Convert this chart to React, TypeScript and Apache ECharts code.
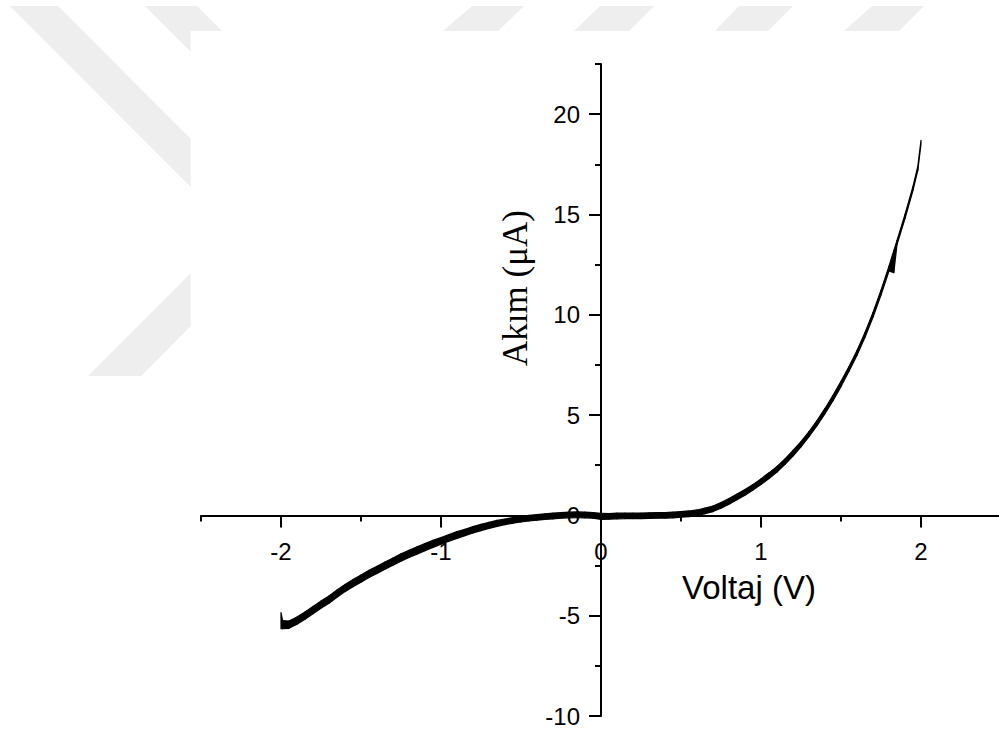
import React, { useEffect, useRef } from "react";
import * as echarts from "echarts";

// Voltage (V) sample positions
const voltage = [
  -2.0, -1.99, -1.95, -1.9, -1.85, -1.8, -1.75, -1.7, -1.65, -1.6, -1.55, -1.5,
  -1.45, -1.4, -1.35, -1.3, -1.25, -1.2, -1.15, -1.1, -1.05, -1.0, -0.95, -0.9,
  -0.85, -0.8, -0.75, -0.7, -0.65, -0.6, -0.55, -0.5, -0.45, -0.4, -0.35, -0.3,
  -0.25, -0.2, -0.15, -0.1, -0.05, 0.0, 0.05, 0.1, 0.15, 0.2, 0.25, 0.3, 0.35,
  0.4, 0.45, 0.5, 0.55, 0.6, 0.65, 0.7, 0.75, 0.8, 0.85, 0.9, 0.95, 1.0, 1.05,
  1.1, 1.15, 1.2, 1.25, 1.3, 1.35, 1.4, 1.45, 1.5, 1.55, 1.6, 1.65, 1.7, 1.75,
  1.8, 1.83, 1.85, 1.9, 1.95, 1.98, 2.0,
];

// Lower edge of the noisy current trace (µA)
const currentLow = [
  -5.65, -5.65, -5.63, -5.43, -5.18, -4.9, -4.63, -4.38, -4.08, -3.8, -3.56, -3.33,
  -3.1, -2.9, -2.68, -2.48, -2.28, -2.1, -1.93, -1.76, -1.6, -1.44, -1.29, -1.15,
  -1.01, -0.88, -0.76, -0.65, -0.55, -0.46, -0.39, -0.33, -0.28, -0.24, -0.2, -0.17,
  -0.14, -0.12, -0.11, -0.12, -0.14, -0.2, -0.19, -0.17, -0.16, -0.16, -0.16, -0.15, -0.14,
  -0.14, -0.12, -0.09, -0.06, -0.01, 0.08, 0.19, 0.36, 0.56, 0.78, 1.01, 1.26, 1.54, 1.84,
  2.16, 2.54, 2.96, 3.42, 3.92, 4.47, 5.07, 5.72, 6.42, 7.18, 7.98, 8.88, 9.88, 10.98,
  12.18, 12.1, 13.5, 14.8, 16.2, 17.2, 18.5,
];

// Upper edge of the noisy current trace (µA)
const currentHigh = [
  -4.85, -5.25, -5.27, -5.07, -4.82, -4.54, -4.27, -4.02, -3.72, -3.44, -3.2, -2.97,
  -2.74, -2.54, -2.32, -2.12, -1.92, -1.74, -1.57, -1.4, -1.24, -1.1, -0.95, -0.81,
  -0.69, -0.56, -0.44, -0.35, -0.25, -0.18, -0.11, -0.05, 0.0, 0.04, 0.08, 0.11,
  0.14, 0.16, 0.17, 0.16, 0.14, 0.1, 0.09, 0.11, 0.12, 0.12, 0.12, 0.13, 0.14,
  0.14, 0.16, 0.19, 0.22, 0.27, 0.36, 0.47, 0.64, 0.84, 1.06, 1.29, 1.54, 1.82, 2.12,
  2.44, 2.82, 3.24, 3.68, 4.18, 4.73, 5.33, 5.98, 6.68, 7.42, 8.22, 9.12, 10.12, 11.22,
  12.42, 13.2, 13.7, 15.0, 16.4, 17.4, 18.7,
];

const xMin = -2.5;
const xMax = 2.5;
const yMin = -10;
const yMax = 22.5;
const xMajorTicks = [-2, -1, 0, 1, 2];
const xMinorTicks = [-2.5, -1.5, -0.5, 0.5, 1.5, 2.5];
const yMajorTicks = [-10, -5, 0, 5, 10, 15, 20];
const yMinorTicks = [-7.5, -2.5, 2.5, 7.5, 12.5, 17.5, 22.5];

const xTitle = "Voltaj (V)";
const yTitle = "Akım (μA)";

// Faint watermark shapes around the figure
const watermarkShapes = [
  [[10, 6], [58, 6], [190.7, 138.7], [190.7, 186.7]],
  [[145, 6], [197, 6], [222, 31], [190.7, 31], [190.7, 51.7]],
  [[88, 376], [141, 376], [190.7, 326.3], [190.7, 273.3]],
  [[472, 6], [524, 6], [498, 31], [443, 31]],
  [[600, 6], [654, 6], [629, 31], [574, 31]],
  [[739, 6], [793, 6], [768, 31], [715, 31]],
  [[872, 6], [924, 6], [899, 31], [844, 31]],
];

const SANS = '"Liberation Sans", Arial, sans-serif';
const SERIF = '"Liberation Serif", "Times New Roman", serif';

const GRID = { left: 201, top: 64, width: 800, height: 652 };

export default function App() {
  const ref = useRef<HTMLDivElement>(null);

  useEffect(() => {
    if (!ref.current) return;
    const chart = echarts.init(ref.current, undefined, { renderer: "svg" });

    const black = "#000000";
    const tickStyle = { color: black, width: 2 };

    // Place the axis lines through the origin (x = 0, y = 0)
    const xAxisOffset = -GRID.height * (0 - yMin) / (yMax - yMin);
    const yAxisOffset = -GRID.width * (0 - xMin) / (xMax - xMin);

    const segments = voltage.slice(0, -1).map((v, i) => [
      v, currentLow[i], currentHigh[i],
      voltage[i + 1], currentLow[i + 1], currentHigh[i + 1],
    ]);

    const option: any = {
      animation: false,
      backgroundColor: "#ffffff",
      textStyle: { fontFamily: SANS },
      grid: { ...GRID, containLabel: false, outerBoundsMode: "none" },
      xAxis: [
        {
          type: "value",
          min: xMin,
          max: xMax,
          position: "bottom",
          offset: xAxisOffset,
          axisLine: { show: true, onZero: false, lineStyle: { color: black, width: 2 } },
          axisTick: { show: true, customValues: xMajorTicks, length: 12, lineStyle: tickStyle },
          axisLabel: { show: true, customValues: xMajorTicks, fontSize: 24, color: black, margin: 24, fontFamily: SANS },
          splitLine: { show: false },
        },
        {
          type: "value",
          min: xMin,
          max: xMax,
          position: "bottom",
          offset: xAxisOffset,
          axisLine: { show: false, onZero: false },
          axisTick: { show: true, customValues: xMinorTicks, length: 6, lineStyle: tickStyle },
          axisLabel: { show: false },
          splitLine: { show: false },
        },
      ],
      yAxis: [
        {
          type: "value",
          min: yMin,
          max: yMax,
          position: "left",
          offset: yAxisOffset,
          axisLine: { show: true, onZero: false, lineStyle: { color: black, width: 2 } },
          axisTick: { show: true, customValues: yMajorTicks, length: 12, lineStyle: tickStyle },
          axisLabel: { show: true, customValues: yMajorTicks, fontSize: 24, color: black, margin: 21, fontFamily: SANS },
          splitLine: { show: false },
        },
        {
          type: "value",
          min: yMin,
          max: yMax,
          position: "left",
          offset: yAxisOffset,
          axisLine: { show: false, onZero: false },
          axisTick: { show: true, customValues: yMinorTicks, length: 6, lineStyle: tickStyle },
          axisLabel: { show: false },
          splitLine: { show: false },
        },
      ],
      graphic: [
        ...watermarkShapes.map((pts) => ({
          type: "polygon",
          silent: true,
          z: 0,
          shape: { points: pts },
          style: { fill: "#eeeeee", stroke: "none" },
        })),
        {
          type: "text",
          x: 749,
          y: 587,
          z: 10,
          style: {
            text: xTitle,
            fontSize: 33,
            fontFamily: SANS,
            fill: black,
            textAlign: "center",
            textVerticalAlign: "middle",
            align: "center",
            verticalAlign: "middle",
          },
        },
        {
          type: "text",
          x: 515,
          y: 288,
          z: 10,
          rotation: Math.PI / 2,
          style: {
            text: yTitle,
            fontSize: 35,
            fontFamily: SERIF,
            fill: black,
            textAlign: "center",
            textVerticalAlign: "middle",
            align: "center",
            verticalAlign: "middle",
          },
        },
      ],
      series: [
        {
          type: "custom",
          coordinateSystem: "cartesian2d",
          xAxisIndex: 0,
          yAxisIndex: 0,
          z: 5,
          silent: true,
          encode: { x: [0, 3], y: [1, 2, 4, 5] },
          data: segments,
          renderItem: (_params: any, api: any) => {
            const a = api.coord([api.value(0), api.value(1)]);
            const b = api.coord([api.value(3), api.value(4)]);
            const c = api.coord([api.value(3), api.value(5)]);
            const d = api.coord([api.value(0), api.value(2)]);
            return {
              type: "polygon",
              shape: { points: [a, b, c, d] },
              style: { fill: black, stroke: black, lineWidth: 1.2, lineJoin: "round" },
            };
          },
        },
      ],
    };

    chart.setOption(option);
    return () => chart.dispose();
  }, []);

  return (
    <div
      ref={ref}
      style={{ position: "fixed", left: 0, top: 0, width: 999, height: 731, background: "#fff" }}
    />
  );
}
